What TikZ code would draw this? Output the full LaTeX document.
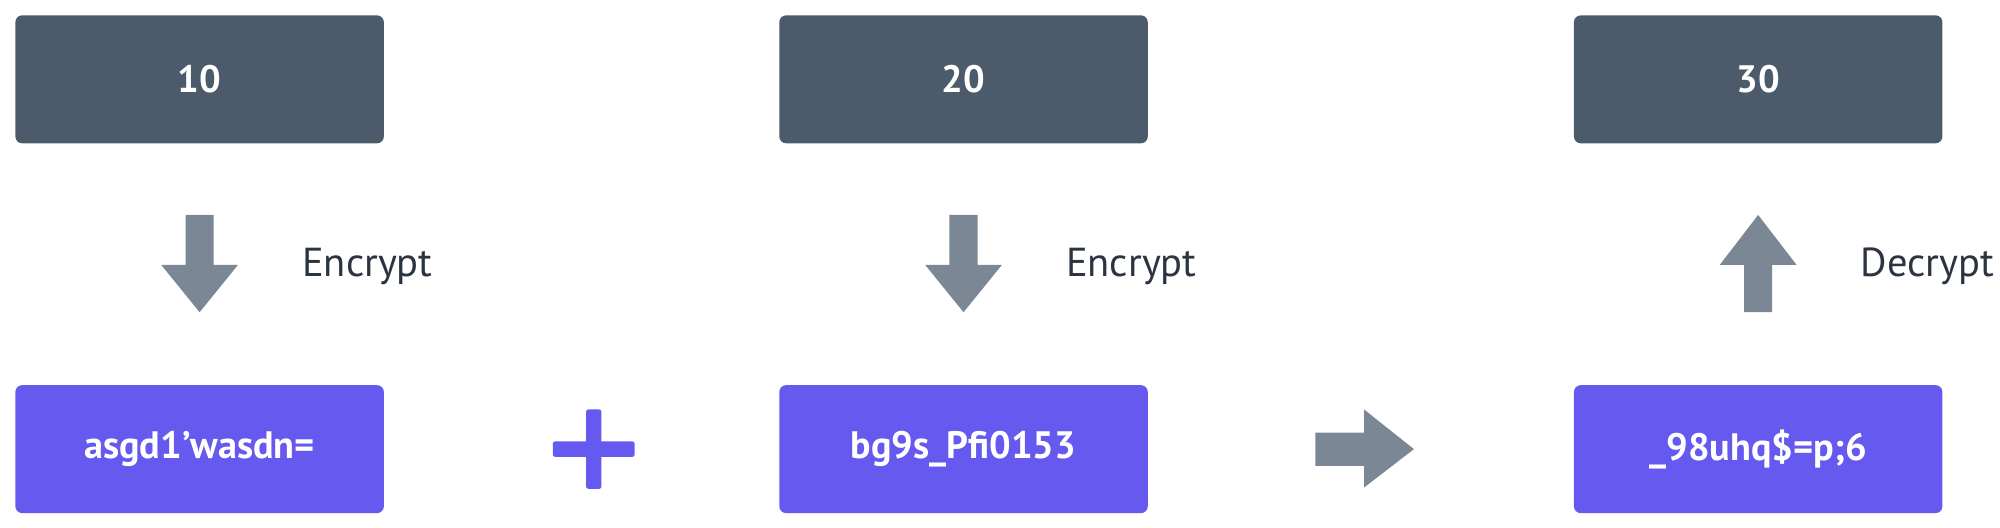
\documentclass[tikz,border=0pt]{standalone}
\usepackage{fontspec}
\setmainfont{PT Sans}
\definecolor{dk}{HTML}{4B5B6B}
\definecolor{pu}{HTML}{6559F0}
\definecolor{ar}{HTML}{7B8794}
\definecolor{tx}{HTML}{2B3440}
\begin{document}
\begin{tikzpicture}[x=0.02cm,y=-0.02cm,
  box/.style={rounded corners=3pt,minimum width=5.76cm,minimum height=2cm,text=white,font=\fontsize{17}{20}\selectfont\bfseries,inner sep=0pt},
  dbox/.style={box,fill=dk},
  pbox/.style={box,fill=pu},
  lbl/.style={text=tx,font=\fontsize{18}{21}\selectfont,anchor=west}]
\useasboundingbox (0,0) rectangle (1563,412.6);
\node[dbox] (a) at (156,62) {10};
\node[dbox] (b) at (753,62) {20};
\node[dbox] (c) at (1374,62) {30};
\node[pbox] (d) at (156,351) {asgd1'wasdn=};
\node[pbox] (e) at (753,351) {bg9s\_Pfi0153};
\node[pbox] (f) at (1374,351) {\_98uhq\$=p;6};
% down arrows
\foreach \cx in {156,753}{
  \fill[ar] (\cx-11,168) -- (\cx+11,168) -- (\cx+11,207) -- (\cx+30,207) -- (\cx,244) -- (\cx-30,207) -- (\cx-11,207) -- cycle;}
\fill[ar] (1374-11,244) -- (1374+11,244) -- (1374+11,207) -- (1374+30,207) -- (1374,168) -- (1374-30,207) -- (1374-11,207) -- cycle;
\node[lbl] (l1) at (230,208) {Encrypt};
\node[lbl] (l2) at (827,208) {Encrypt};
\node[lbl] (l3) at (1448,208) {Decrypt};
% plus
\fill[pu,rounded corners=1pt] (458,320) rectangle (470,382);
\fill[pu,rounded corners=1pt] (432,345) rectangle (496,357);
% right arrow
\fill[ar] (1028,338) -- (1066,338) -- (1066,320) -- (1105,351) -- (1066,381) -- (1066,364) -- (1028,364) -- cycle;
\end{tikzpicture}
\end{document}
